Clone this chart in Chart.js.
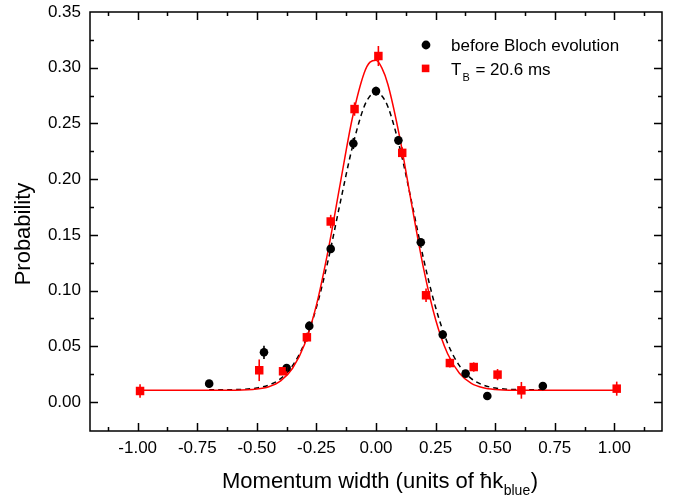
<!DOCTYPE html>
<html><head><meta charset="utf-8">
<script src="https://cdn.jsdelivr.net/npm/chart.js@4.4.1/dist/chart.umd.min.js"></script>
<style>html,body{margin:0;padding:0;background:#fff;}#wrap{width:679px;height:502px;}</style>
</head><body><div id="wrap"><canvas id="c" width="679" height="502"></canvas></div>
<script>
// ---- data ----
const blackX   = [-0.70, -0.47, -0.375, -0.28, -0.19, -0.095, 0.0, 0.094, 0.188, 0.28, 0.376, 0.467, 0.70];
const blackY   = [0.0165, 0.0446, 0.0305, 0.0683, 0.1374, 0.232, 0.279, 0.2348, 0.1434, 0.0605, 0.0255, 0.0054, 0.0144];
const blackErr = [0.003, 0.006, 0.003, 0.004, 0.003, 0.005, 0.004, 0.004, 0.003, 0.003, 0.003, 0.002, 0.003];

const redX   = [-0.99, -0.49, -0.39, -0.29, -0.19, -0.09, 0.01, 0.11, 0.21, 0.31, 0.41, 0.51, 0.61, 1.01];
const redY   = [0.0099, 0.0285, 0.0276, 0.0581, 0.162, 0.2629, 0.3105, 0.2236, 0.0958, 0.035, 0.0314, 0.0246, 0.0105, 0.012];
const redErr = [0.006, 0.0097, 0.003, 0.004, 0.006, 0.006, 0.009, 0.005, 0.006, 0.004, 0.0042, 0.005, 0.0075, 0.0063];

// fitted curves as traced on the picture
const blackFitX = [-0.70, -0.60, -0.55, -0.50, -0.45, -0.40, -0.35, -0.30, -0.25, -0.20, -0.15, -0.10, -0.05, -0.025, 0.0, 0.025, 0.05, 0.10, 0.15, 0.20, 0.25, 0.30, 0.35, 0.40, 0.45, 0.50, 0.55, 0.60, 0.70];
const blackFitY = [0.011, 0.0111, 0.0115, 0.0126, 0.0152, 0.021, 0.0326, 0.053, 0.085, 0.128, 0.179, 0.228, 0.265, 0.2746, 0.278, 0.2746, 0.265, 0.228, 0.179, 0.128, 0.085, 0.053, 0.0326, 0.021, 0.0152, 0.0126, 0.0115, 0.0111, 0.011];

const redFitX = [-1.0, -0.70, -0.60, -0.50, -0.45, -0.40, -0.35, -0.30, -0.25, -0.20, -0.15, -0.10, -0.05, -0.025, 0.0, 0.025, 0.05, 0.10, 0.15, 0.20, 0.25, 0.30, 0.35, 0.40, 0.45, 0.50, 0.60, 0.70, 1.0];
const redFitY = [0.0105, 0.0105, 0.0106, 0.0116, 0.0137, 0.019, 0.0303, 0.0517, 0.087, 0.137, 0.196, 0.254, 0.295, 0.305, 0.3066, 0.2996, 0.285, 0.237, 0.177, 0.1195, 0.074, 0.0435, 0.0258, 0.0168, 0.0128, 0.0113, 0.0106, 0.0105, 0.0105];

const xTickValues = [-1.0, -0.75, -0.5, -0.25, 0.0, 0.25, 0.5, 0.75, 1.0];
const yTickValues = [0.0, 0.05, 0.10, 0.15, 0.20, 0.25, 0.30, 0.35];

const seriesNames = ['before Bloch evolution', 'T', 'B', ' = 20.6 ms'];
const xTitleParts = ['Momentum width (units of \u0127k', 'blue', ')'];
const yTitle = 'Probability';

// ---- helpers ----
const pts = (xs, ys) => xs.map((x, i) => ({x: x, y: ys[i]}));
const FONT = '"Liberation Sans", Arial, Helvetica, sans-serif';
Chart.defaults.font.family = FONT;
Chart.defaults.color = '#000';

const errorBars = {
  id: 'errorBars',
  afterDatasetsDraw(chart) {
    const ctx = chart.ctx, xs = chart.scales.x, ys = chart.scales.y;
    const sets = [[blackX, blackY, blackErr, '#000'], [redX, redY, redErr, '#ff0000']];
    ctx.save();
    ctx.lineWidth = 1.6;
    sets.forEach(([X, Y, E, col]) => {
      ctx.strokeStyle = col;
      X.forEach((x, i) => {
        const px = xs.getPixelForValue(x);
        ctx.beginPath();
        ctx.moveTo(px, ys.getPixelForValue(Y[i] - E[i]));
        ctx.lineTo(px, ys.getPixelForValue(Y[i] + E[i]));
        ctx.stroke();
      });
    });
    ctx.restore();
  }
};

const frame = {
  id: 'frame',
  afterDraw(chart) {
    const ctx = chart.ctx, a = chart.chartArea, xs = chart.scales.x, ys = chart.scales.y;
    ctx.save();
    ctx.strokeStyle = '#000';
    ctx.lineWidth = 1.5;
    ctx.strokeRect(a.left, a.top, a.right - a.left, a.bottom - a.top);
    const maj = 8, mnr = 4;
    ctx.beginPath();
    const xStep = xTickValues[1] - xTickValues[0];
    for (let v = xTickValues[0] - xStep / 2; v <= xTickValues[xTickValues.length - 1] + xStep / 2 + 1e-9; v += xStep / 2) {
      const px = Math.round(xs.getPixelForValue(v)) + 0.5;
      if (px < a.left + 2 || px > a.right - 2) continue;
      const isMaj = xTickValues.some(t => Math.abs(t - v) < 1e-6);
      const L = isMaj ? maj : mnr;
      ctx.moveTo(px, a.bottom); ctx.lineTo(px, a.bottom - L);
      ctx.moveTo(px, a.top); ctx.lineTo(px, a.top + L);
    }
    const yStep = yTickValues[1] - yTickValues[0];
    for (let v = yTickValues[0] - yStep / 2; v <= yTickValues[yTickValues.length - 1] + 1e-9; v += yStep / 2) {
      const py = Math.round(ys.getPixelForValue(v)) + 0.5;
      if (py < a.top + 2 || py > a.bottom - 2) continue;
      const isMaj = yTickValues.some(t => Math.abs(t - v) < 1e-6);
      const L = isMaj ? maj : mnr;
      ctx.moveTo(a.left, py); ctx.lineTo(a.left + L, py);
      ctx.moveTo(a.right, py); ctx.lineTo(a.right - L, py);
    }
    ctx.stroke();

    // axis titles
    ctx.fillStyle = '#000';
    ctx.textBaseline = 'alphabetic';
    const big = '22px ' + FONT, small = '14px ' + FONT;
    ctx.font = big; const w0 = ctx.measureText(xTitleParts[0]).width, w2 = ctx.measureText(xTitleParts[2]).width;
    ctx.font = small; const w1 = ctx.measureText(xTitleParts[1]).width;
    const total = w0 + w1 + w2 + 1;
    let x0 = 380 - total / 2; const base = 488;
    ctx.textAlign = 'left';
    ctx.font = big; ctx.fillText(xTitleParts[0], x0, base);
    ctx.font = small; ctx.fillText(xTitleParts[1], x0 + w0 + 0.5, base + 7);
    ctx.font = big; ctx.fillText(xTitleParts[2], x0 + w0 + w1 + 1, base);

    ctx.save();
    ctx.translate(30, 234);
    ctx.rotate(-Math.PI / 2);
    ctx.textAlign = 'center';
    ctx.font = big;
    ctx.fillText(yTitle, 0, 0);
    ctx.restore();

    // legend
    ctx.fillStyle = '#000';
    ctx.beginPath(); ctx.arc(426, 45, 4.4, 0, Math.PI * 2); ctx.fill();
    ctx.fillStyle = '#ff0000';
    ctx.fillRect(421.8, 64.6, 7.6, 7.6);
    ctx.fillStyle = '#000';
    ctx.textAlign = 'left';
    ctx.font = '17px ' + FONT;
    ctx.fillText(seriesNames[0], 451, 51);
    ctx.fillText(seriesNames[1], 451, 75);
    const tw = ctx.measureText(seriesNames[1]).width;
    ctx.font = '11px ' + FONT;
    ctx.fillText(seriesNames[2], 451 + tw + 1, 81);
    const bw = ctx.measureText(seriesNames[2]).width;
    ctx.font = '17px ' + FONT;
    ctx.fillText(seriesNames[3], 451 + tw + bw + 2, 75);
    ctx.restore();
  }
};

new Chart(document.getElementById('c'), {
  type: 'scatter',
  data: {
    datasets: [
      { label: 'redPts', data: pts(redX, redY), pointStyle: 'rect', pointRadius: 6, pointHoverRadius: 6,
        backgroundColor: '#ff0000', borderColor: '#ff0000', borderWidth: 0, order: 0 },
      { label: 'blackPts', data: pts(blackX, blackY), pointStyle: 'circle', pointRadius: 4.3, pointHoverRadius: 4.3,
        backgroundColor: '#000', borderColor: '#000', borderWidth: 0, order: 1 },
      { label: 'redFit', data: pts(redFitX, redFitY), showLine: true, pointRadius: 0, borderColor: '#ff0000',
        borderWidth: 1.5, cubicInterpolationMode: 'monotone', fill: false, order: 2 },
      { label: 'blackFit', data: pts(blackFitX, blackFitY), showLine: true, pointRadius: 0, borderColor: '#000',
        borderWidth: 1.5, borderDash: [5, 4], cubicInterpolationMode: 'monotone', fill: false, order: 3 }
    ]
  },
  options: {
    responsive: false,
    animation: false,
    devicePixelRatio: 1,
    layout: { padding: { top: 12, right: 17, left: 0, bottom: 0 } },
    plugins: { legend: { display: false }, tooltip: { enabled: false }, title: { display: false } },
    scales: {
      x: {
        type: 'linear', min: -1.2, max: 1.2,
        afterFit: s => { s.height = 71; s.paddingLeft = 0; s.paddingRight = 0; },
        afterBuildTicks: s => { s.ticks = xTickValues.map(v => ({ value: v })); },
        grid: { display: false, drawTicks: false },
        border: { display: false },
        ticks: { padding: 7, font: { size: 17 }, color: '#000', maxRotation: 0, autoSkip: false,
                 callback: v => v.toFixed(2) }
      },
      y: {
        type: 'linear', min: -0.026, max: 0.35,
        afterFit: s => { s.width = 90; s.paddingTop = 0; s.paddingBottom = 0; },
        afterBuildTicks: s => { s.ticks = yTickValues.map(v => ({ value: v })); },
        grid: { display: false, drawTicks: false },
        border: { display: false },
        ticks: { padding: 9, font: { size: 17 }, color: '#000', autoSkip: false,
                 callback: v => v.toFixed(2) }
      }
    }
  },
  plugins: [errorBars, frame]
});
</script>
</body></html>
